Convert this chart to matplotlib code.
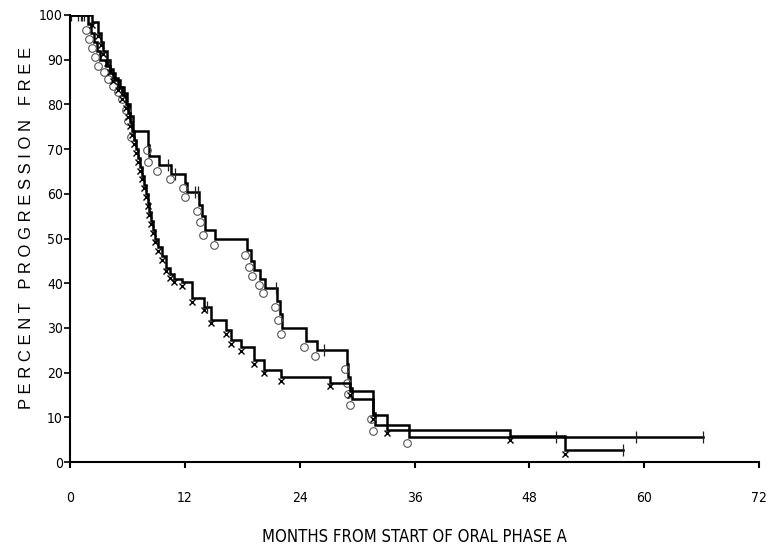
import numpy as np
import matplotlib
matplotlib.use('Agg')
import matplotlib.pyplot as plt

plt.rcParams['font.family'] = ['DejaVu Sans']
plt.rcParams['font.stretch'] = 'condensed'

# event times (months) and percent progression free after each event
o_times = [1.9, 2.2, 2.5, 2.8, 3.1, 3.8, 4.2, 4.7, 5.2, 5.6, 6.0, 6.3, 6.6, 8.2, 8.3,
           9.3, 10.6, 12.0, 12.2, 13.5, 13.8, 14.1, 15.2, 18.5, 18.9, 19.2, 19.9,
           20.4, 21.6, 21.9, 22.2, 24.7, 25.8, 28.9, 29.1, 29.3, 29.5, 31.7, 31.9, 35.4]
o_surv = [98, 96, 94, 92, 90, 88.5, 87, 85.5, 84, 82.5, 80, 77.5, 74, 71, 68.5,
          66.5, 64.5, 62.5, 60.5, 57.5, 55, 52, 49.9, 47.5, 45, 43, 41,
          39, 36, 33, 30, 27, 25, 22, 19, 16.5, 14, 11, 8.3, 5.6]
o_censored = [0.1, 0.8, 1.3, 10.2, 11.0, 13.1, 13.4, 21.5, 26.5, 50.8, 59.1, 66.1]

x_times = [2.3, 2.9, 3.2, 3.5, 3.9, 4.2, 4.5, 5.0, 5.4, 5.8, 6.1, 6.3, 6.5, 6.7, 6.9,
           7.1, 7.3, 7.5, 7.7, 7.9, 8.1, 8.3, 8.5, 8.7, 8.9, 9.2, 9.6, 10.0, 10.5,
           10.9, 11.7, 12.8, 14.0, 14.7, 16.3, 16.8, 17.9, 19.2, 20.3, 22.0, 27.2,
           29.3, 31.7, 33.1, 46.0, 51.7]
x_surv = [98.5, 96, 94, 92, 90, 88, 86, 84, 82, 80, 78, 76, 74, 72, 70,
          68, 66, 64, 62, 60, 58, 56, 54, 52, 50, 48, 46, 43.5, 42,
          41, 40.2, 36.7, 34.7, 31.8, 29.5, 27.3, 25.7, 22.8, 20.6, 19, 17.7,
          15.9, 10.5, 7.2, 5.8, 2.7]
x_censored = [1.1, 1.5, 14.3, 57.8]

x_ticks = [0, 12, 24, 36, 48, 60, 72]
y_ticks = [0, 10, 20, 30, 40, 50, 60, 70, 80, 90, 100]


def surv_at(times, surv, t):
    idx = np.searchsorted(times, t, side='right') - 1
    return 100.0 if idx < 0 else surv[idx]


fig = plt.figure(figsize=(7.68, 5.56), dpi=100)
ax = fig.add_axes([70 / 768, (556 - 462) / 556, 689 / 768, 447 / 556])

for times, surv, cens, mk in [(o_times, o_surv, o_censored, 'o'),
                              (x_times, x_surv, x_censored, 'x')]:
    end = max(cens[-1], times[-1])
    xs = [0] + times + [end]
    ys = [100] + surv + [surv[-1]]
    ax.step(xs, ys, where='post', color='black', lw=1.8, solid_joinstyle='miter')
    if mk == 'o':
        ax.plot(np.array(times) - 0.2, np.array(surv) - 1.3, 'o', ms=5.5, mfc='none',
                mec='#555555', mew=0.8)
    else:
        ax.plot(times, np.array(surv) - 0.8, 'x', ms=5, color='black', mew=1.0)
    cs = [surv_at(times, surv, c) for c in cens]
    ax.plot(cens, cs, '|', ms=9, color='#222222', mew=0.9)

ax.set_xlim(0, 72)
ax.set_ylim(0, 100)
ax.set_xticks(x_ticks)
ax.set_yticks(y_ticks)
ax.spines['top'].set_visible(False)
ax.spines['right'].set_visible(False)
ax.spines['left'].set_linewidth(1.5)
ax.spines['bottom'].set_linewidth(1.5)
ax.tick_params(axis='x', length=4, width=1.5, direction='out', pad=17, labelsize=10)
ax.tick_params(axis='y', length=4, width=1.2, direction='out', pad=1, labelsize=10)
for sp in ax.spines.values():
    sp.set_clip_on(False)

fig.text(414 / 768, 1 - 537 / 556, 'MONTHS FROM START OF ORAL PHASE A',
         ha='center', va='center', fontsize=12)
fig.text(27 / 768, 1 - 228 / 556, 'P E R C E N T   P R O G R E S S I O N   F R E E',
         rotation=90, ha='center', va='center', fontsize=12,
         family=['Liberation Sans', 'DejaVu Sans'], stretch='normal')

fig.savefig('out.png', dpi=100)
